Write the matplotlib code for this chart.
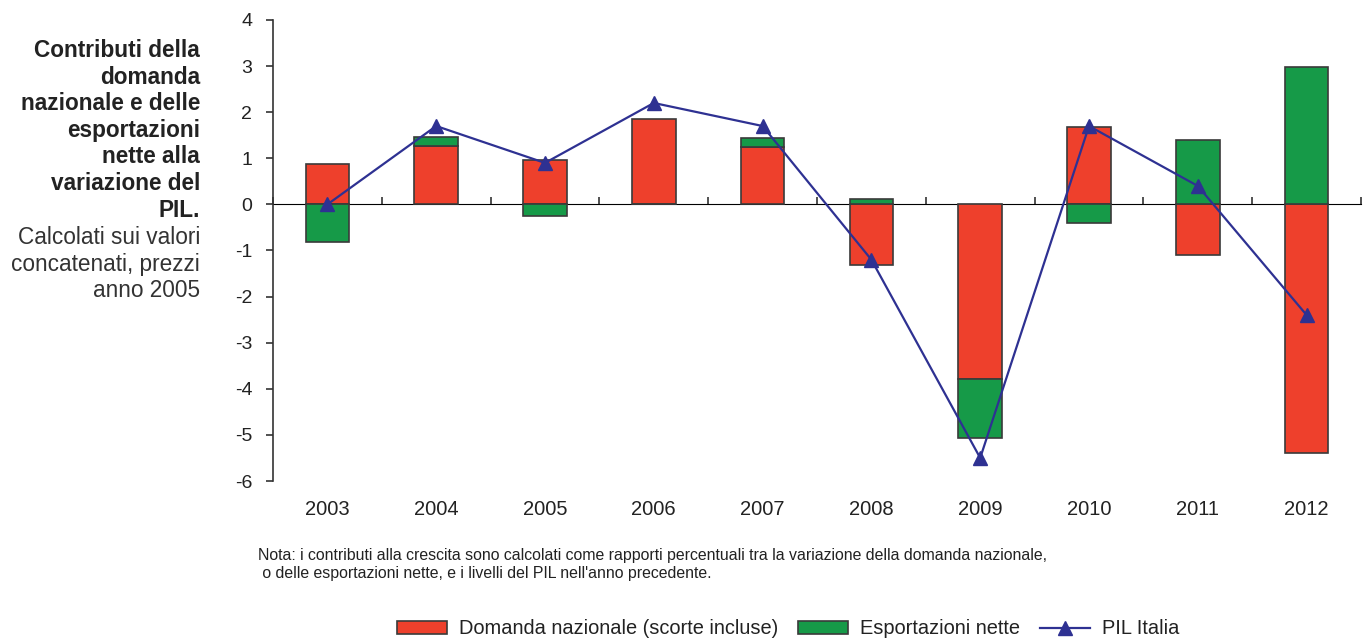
import matplotlib
matplotlib.use("Agg")
import matplotlib.pyplot as plt
from matplotlib.font_manager import fontManager

years = ["2003", "2004", "2005", "2006", "2007", "2008", "2009", "2010", "2011", "2012"]
domanda = [0.88, 1.27, 0.96, 1.85, 1.25, -1.31, -3.79, 1.68, -1.1, -5.39]
esport = [-0.82, 0.2, -0.25, 0.0, 0.2, 0.12, -1.28, -0.4, 1.4, 2.98]
pil = [0.0, 1.7, 0.9, 2.2, 1.7, -1.2, -5.5, 1.7, 0.4, -2.4]

RED = "#EE402C"
GREEN = "#169A48"
BLUE = "#2E3192"
EDGE = "#3a3a3a"

names = set(f.name for f in fontManager.ttflist)
main_font = "Liberation Sans" if "Liberation Sans" in names else "DejaVu Sans"
narrow_font = "Liberation Sans Narrow" if "Liberation Sans Narrow" in names else main_font
plt.rcParams["font.family"] = [main_font, "DejaVu Sans"]
plt.rcParams["axes.unicode_minus"] = False

fig = plt.figure(figsize=(13.67, 6.4), dpi=100)
ax = fig.add_axes([273 / 1367, 1 - 481 / 640, (1361 - 273) / 1367, (481 - 20) / 640])

x = list(range(len(years)))
# stack: same-sign parts go on top of each other
esp_bottom = []
for d, e in zip(domanda, esport):
    if d * e > 0:
        esp_bottom.append(d)
    else:
        esp_bottom.append(0)

w = 0.4
b1 = ax.bar(x, domanda, w, color=RED, edgecolor=EDGE, linewidth=1.2,
            label="Domanda nazionale (scorte incluse)", zorder=2)
b2 = ax.bar(x, esport, w, bottom=esp_bottom, color=GREEN, edgecolor=EDGE, linewidth=1.2,
            label="Esportazioni nette", zorder=2)
l1, = ax.plot(x, pil, color=BLUE, lw=1.6, marker="^", markersize=10.5, label="PIL Italia", zorder=4)

ax.set_xlim(-0.5, 9.5)
ax.set_ylim(-6, 4)
ax.set_yticks(range(-6, 5))
ax.tick_params(axis="y", length=5, width=1.2, color="#333333", pad=10, labelsize=14, labelcolor="#222222")
ax.spines["left"].set_color("#333333")
ax.spines["left"].set_linewidth(1.2)
for s in ["top", "right", "bottom"]:
    ax.spines[s].set_visible(False)

ax.set_xticks(x)
ax.set_xticklabels(years)
ax.tick_params(axis="x", length=0, pad=14, labelsize=14.5, labelcolor="#222222")

# zero line with ticks between categories
zero = ax.secondary_xaxis(0.6)
zero.set_xticks([i + 0.5 for i in range(-1, len(years))])
zero.set_xticklabels([])
zero.tick_params(axis="x", length=5, width=1.2, color="#333333", direction="out")
zero.spines["bottom"].set_color("#333333")
zero.spines["bottom"].set_linewidth(1.2)

# side title
fig.text(200 / 1367, 1 - 39 / 640,
         "Contributi della\ndomanda\nnazionale e delle\nesportazioni\nnette alla\nvariazione del\nPIL.",
         ha="right", va="top", fontsize=16.3, fontweight="bold", color="#222222", linespacing=1.2)
fig.text(200 / 1367, 1 - 226 / 640,
         "Calcolati sui valori\nconcatenati, prezzi\nanno 2005",
         ha="right", va="top", fontsize=16.3, color="#333333", linespacing=1.2)

fig.text(258 / 1367, 1 - 548 / 640,
         "Nota: i contributi alla crescita sono calcolati come rapporti percentuali tra la variazione della domanda nazionale,\n"
         " o delle esportazioni nette, e i livelli del PIL nell'anno precedente.",
         ha="left", va="top", fontsize=11.4, family=[narrow_font, "DejaVu Sans"], color="#222222", linespacing=1.25)

fig.legend([b1, b2, l1], ["Domanda nazionale (scorte incluse)", "Esportazioni nette", "PIL Italia"],
           loc="center", bbox_to_anchor=(788 / 1367, 1 - 629 / 640), ncol=3, frameon=False,
           fontsize=14.4, handlelength=2.5, handleheight=0.6, handletextpad=0.6, columnspacing=1.0,
           labelcolor="#222222")

fig.savefig("out.png", dpi=100)
